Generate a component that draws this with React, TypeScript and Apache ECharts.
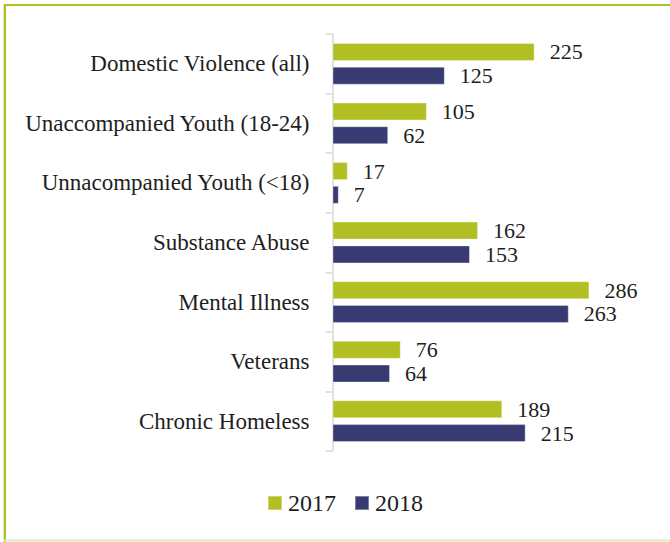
import React, { useEffect, useRef } from "react";
import * as echarts from "echarts";

const categories = [
  "Domestic Violence (all)",
  "Unaccompanied Youth (18-24)",
  "Unnacompanied Youth (<18)",
  "Substance Abuse",
  "Mental Illness",
  "Veterans",
  "Chronic Homeless",
];
const values2017 = [225, 105, 17, 162, 286, 76, 189];
const values2018 = [125, 62, 7, 153, 263, 64, 215];
const seriesNames = ["2017", "2018"];

const GREEN = "#b1bf22";
const NAVY = "#373b72";
const FONT = "Liberation Serif, Times New Roman, serif";

export default function App() {
  const ref = useRef<HTMLDivElement>(null);
  useEffect(() => {
    if (!ref.current) return;
    const chart = echarts.init(ref.current, null, { renderer: "svg" });
    const label = {
      show: true,
      position: "right",
      distance: 15,
      color: "#1e1e1e",
      fontFamily: FONT,
      fontSize: 22,
    };
    chart.setOption({
      animation: false,
      backgroundColor: "#ffffff",
      textStyle: { fontFamily: FONT },
      grid: { left: 332.5, right: 68, top: 34, bottom: 91, containLabel: false },
      xAxis: {
        type: "value",
        min: 0,
        max: 300,
        show: false,
        splitLine: { show: false },
      },
      yAxis: {
        type: "category",
        inverse: true,
        data: categories,
        axisLine: { show: true, lineStyle: { color: "#d9d9d9", width: 1.5 } },
        axisTick: { show: true, length: 7, lineStyle: { color: "#d9d9d9", width: 1.5 } },
        axisLabel: {
          margin: 23,
          color: "#1e1e1e",
          fontFamily: FONT,
          fontSize: 23,
        },
      },
      legend: {
        data: seriesNames,
        left: 267,
        top: 491,
        padding: 0,
        itemWidth: 14,
        itemHeight: 14,
        itemGap: 18,
        icon: "rect",
        textStyle: { color: "#1e1e1e", fontFamily: FONT, fontSize: 24, padding: [0, 0, 0, 1] },
      },
      series: [
        {
          name: seriesNames[0],
          type: "bar",
          data: values2017,
          barWidth: 18,
          barGap: "32%",
          itemStyle: { color: GREEN, borderColor: "rgba(255,255,255,0.35)", borderWidth: 1 },
          label,
        },
        {
          name: seriesNames[1],
          type: "bar",
          data: values2018,
          barWidth: 18,
          barGap: "32%",
          itemStyle: { color: NAVY, borderColor: "rgba(255,255,255,0.35)", borderWidth: 1 },
          label,
        },
      ],
      graphic: [
        { type: "rect", shape: { x: 4, y: 4, width: 670, height: 2 }, style: { fill: GREEN } },
        { type: "rect", shape: { x: 4, y: 4, width: 2, height: 538 }, style: { fill: GREEN } },
        { type: "rect", shape: { x: 3, y: 4, width: 1, height: 538 }, style: { fill: "#e4eab8" } },
        { type: "rect", shape: { x: 4, y: 539.5, width: 670, height: 2 }, style: { fill: "#e2e9b4" } },
      ],
    });
    return () => chart.dispose();
  }, []);
  return (
    <div
      ref={ref}
      style={{ position: "fixed", left: 0, top: 0, width: 670, height: 542 }}
    />
  );
}
